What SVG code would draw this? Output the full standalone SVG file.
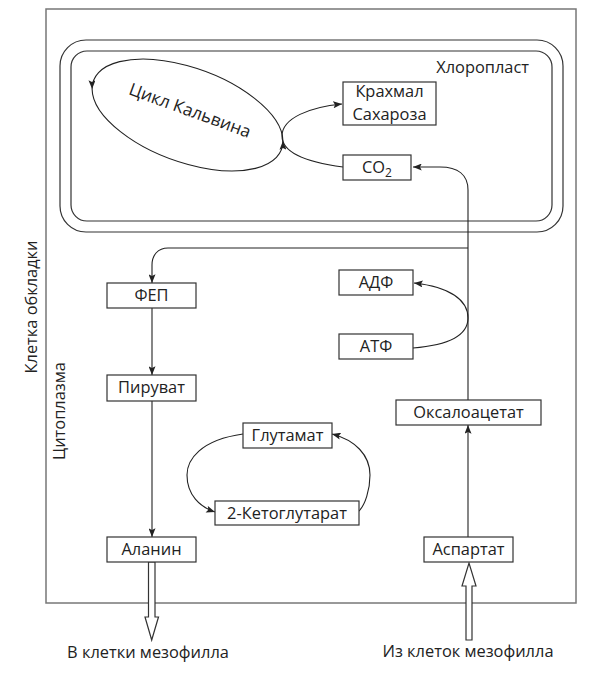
<svg xmlns="http://www.w3.org/2000/svg" width="600" height="689" viewBox="0 0 600 689">
<style>
text{font-family:"Open Sans","Noto Sans","DejaVu Sans",sans-serif;font-size:16.4px;fill:#222}
.box{fill:#fff;stroke:#333;stroke-width:1.2}
.ln{fill:none;stroke:#222;stroke-width:1.1}
.c{text-anchor:middle}
.hollow{fill:#fff;stroke:#333;stroke-width:1.2}
</style>
<defs>
<marker id="ah" viewBox="0 0 10 8" markerWidth="9" markerHeight="7" refX="10" refY="4" orient="auto" markerUnits="userSpaceOnUse">
<path d="M0,0 L10,4 L0,8 L2,4 z" fill="#222"/>
</marker>
</defs>
<g id="cell">
<rect x="46" y="9" width="530" height="594" fill="none" stroke="#777" stroke-width="1.5"/>
<text transform="translate(37,307) rotate(-90)" class="c">Клетка обкладки</text>
<text transform="translate(65,411) rotate(-90)" class="c">Цитоплазма</text>
</g>
<g id="chloroplast">
<rect x="60" y="40" width="503" height="192" rx="26" fill="none" stroke="#333" stroke-width="1.2"/>
<rect x="71" y="51" width="481" height="170" rx="16" fill="none" stroke="#333" stroke-width="1.2"/>
<text x="529" y="73" text-anchor="end">Хлоропласт</text>
</g>
<g id="connectors">
<path class="ln" d="M282.9,141 A100,47 20 0 0 186.9,65.5 A100,47 20 0 0 92.1,89" marker-end="url(#ah)"/>
<path class="ln" d="M92.1,89 A100,47 20 0 0 188.1,164.5 A100,47 20 0 0 282.9,141" marker-end="url(#ah)"/>
<path class="ln" d="M343,167 C305,162 282,152 282,136 C282,118 310,107 342,104" marker-end="url(#ah)"/>
<path class="ln" d="M468,400 L468,190 C468,175 458,167 440,167 L413,167" marker-end="url(#ah)"/>
<path class="ln" d="M468,248 L168,248 C158,248 152,255 152,265 L152,283" marker-end="url(#ah)"/>
<path class="ln" d="M413,348 C450,345 468,335 468,318 C468,300 450,287 414,283" marker-end="url(#ah)"/>
<path class="ln" d="M152,308 L152,375" marker-end="url(#ah)"/>
<path class="ln" d="M152,401 L152,537" marker-end="url(#ah)"/>
<path class="ln" d="M468,537 L468,425" marker-end="url(#ah)"/>
<path class="ln" d="M243,434 C200,440 187,460 187,475 C187,495 200,507 215,512" marker-end="url(#ah)"/>
<path class="ln" d="M359,511 C365,505 370,490 370,475 C370,455 355,440 332,434" marker-end="url(#ah)"/>
<polygon class="hollow" points="148.5,562 155,562 155,617 158.5,617 151.7,640 145,617 148.5,617"/>
<polygon class="hollow" points="466,640 472,640 472,586 476,586 469,563 462,586 466,586"/>
</g>
<g id="calvin">
<text transform="translate(188,116) rotate(20)" class="c" style="font-size:17.2px">Цикл Кальвина</text>
</g>
<g id="starch">
<rect class="box" x="343" y="82" width="93" height="43"/>
<text class="c"><tspan x="389.5" y="97">Крахмал</tspan><tspan x="389.5" y="119.5">Сахароза</tspan></text>
</g>
<g id="co2">
<rect class="box" x="343" y="155" width="68" height="25"/>
<text x="377" y="173" class="c">CO<tspan dy="4" style="font-size:12px">2</tspan></text>
</g>
<g id="adp">
<rect class="box" x="339" y="270" width="74" height="25"/>
<text x="376" y="288" class="c">АДФ</text>
</g>
<g id="atp">
<rect class="box" x="339" y="334" width="74" height="25"/>
<text x="376" y="352" class="c">АТФ</text>
</g>
<g id="pep">
<rect class="box" x="107" y="283" width="89" height="25"/>
<text x="151.5" y="301" class="c">ФЕП</text>
</g>
<g id="pyruvate">
<rect class="box" x="107" y="375" width="89" height="26"/>
<text x="151.5" y="393" class="c">Пируват</text>
</g>
<g id="alanine">
<rect class="box" x="107" y="537" width="89" height="25"/>
<text x="151.5" y="555" class="c">Аланин</text>
</g>
<g id="aspartate">
<rect class="box" x="424" y="537" width="89" height="25"/>
<text x="468.5" y="555" class="c">Аспартат</text>
</g>
<g id="oxaloacetate">
<rect class="box" x="396" y="400" width="145" height="25"/>
<text x="468.5" y="418" class="c">Оксалоацетат</text>
</g>
<g id="glutamate">
<rect class="box" x="243" y="423" width="89" height="25"/>
<text x="287.5" y="441" class="c">Глутамат</text>
</g>
<g id="ketoglutarate">
<rect class="box" x="215" y="501" width="144" height="24"/>
<text x="287" y="519" class="c">2-Кетоглутарат</text>
</g>
<g id="labels">
<text x="148" y="658" class="c">В клетки мезофилла</text>
<text x="468" y="657" class="c">Из клеток мезофилла</text>
</g>
</svg>
